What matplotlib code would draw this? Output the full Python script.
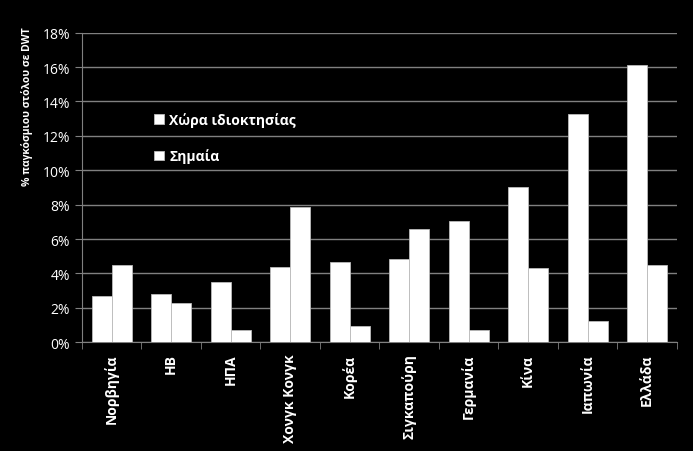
import numpy as np
import matplotlib.pyplot as plt
from matplotlib.ticker import FuncFormatter, MultipleLocator, FixedLocator

countries = ['Νορβηγία', 'ΗΒ', 'ΗΠΑ', 'Χονγκ Κονγκ', 'Κορέα', 'Σιγκαπούρη',
             'Γερμανία', 'Κίνα', 'Ιαπωνία', 'Ελλάδα']
ownership = [2.7, 2.8, 3.5, 4.35, 4.65, 4.85, 7.05, 9.05, 13.3, 16.1]
flag = [4.5, 2.27, 0.73, 7.85, 0.95, 6.57, 0.72, 4.3, 1.26, 4.48]
labels = ['Χώρα ιδιοκτησίας', 'Σημαία']

plt.rcParams['font.family'] = ['Open Sans', 'DejaVu Sans']

fig = plt.figure(figsize=(6.93, 4.52), dpi=100, facecolor='black')
ax = fig.add_axes([0.1183, 0.2405, 0.8586, 0.685], facecolor='black')

x = np.arange(len(countries))
w = 0.336
ax.bar(x - w/2, ownership, w, color='white', edgecolor='#bbbbbb', linewidth=0.6,
       label=labels[0], zorder=3)
ax.bar(x + w/2, flag, w, color='white', edgecolor='#bbbbbb', linewidth=0.6,
       label=labels[1], zorder=3)

ax.set_xlim(-0.5, len(countries) - 0.5)
ax.set_ylim(0, 18)
ax.yaxis.set_major_locator(MultipleLocator(2))
ax.yaxis.set_major_formatter(FuncFormatter(lambda v, p: '%d%%' % v))
ax.grid(axis='y', color='#808080', linewidth=1, zorder=0)

ax.set_xticks(x)
ax.set_xticklabels(countries, rotation=90, fontsize=10, fontweight='bold', color='white')
ax.xaxis.set_minor_locator(FixedLocator(np.arange(-0.5, len(countries), 1)))
ax.tick_params(axis='x', which='major', length=0, pad=8)
ax.tick_params(axis='x', which='minor', length=5, color='#808080')
ax.tick_params(axis='y', length=5, color='#808080', labelcolor='white', labelsize=10)

for s in ['top', 'right']:
    ax.spines[s].set_visible(False)
for s in ['left', 'bottom']:
    ax.spines[s].set_color('#808080')

ax.set_ylabel('% παγκόσμιου στόλου σε DWT', color='white', fontsize=7.5,
              fontweight='bold')
ax.yaxis.set_label_coords(-0.083, 0.766)

leg = ax.legend(loc='upper left', bbox_to_anchor=(0.1, 0.784), frameon=False,
                handlelength=0.7, handleheight=0.7, handletextpad=0.4,
                labelspacing=1.55, prop={'weight': 'bold', 'size': 10})
for t in leg.get_texts():
    t.set_color('white')

fig.savefig('out.png', facecolor='black')
